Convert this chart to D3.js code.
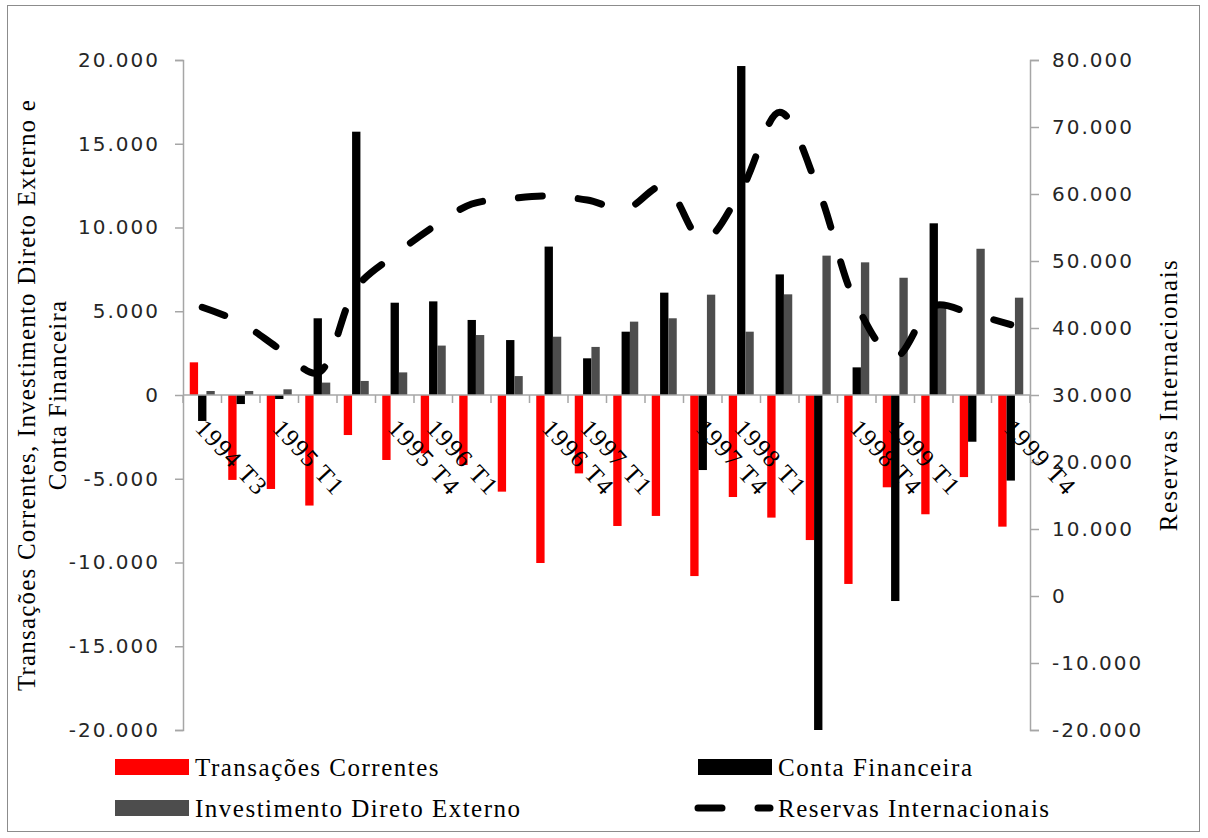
<!DOCTYPE html>
<html>
<head>
<meta charset="utf-8">
<script src="https://cdn.jsdelivr.net/npm/d3@7"></script>
<style>
  html, body { margin: 0; padding: 0; background: #fff; }
  svg { display: block; }
</style>
</head>
<body>
<svg id="chart" width="1208" height="838"></svg>
<script>
// Quarters of the balance-of-payments series (US$ millions)
const quarters = [
  "1994 T3", "1994 T4",
  "1995 T1", "1995 T2", "1995 T3", "1995 T4",
  "1996 T1", "1996 T2", "1996 T3", "1996 T4",
  "1997 T1", "1997 T2", "1997 T3", "1997 T4",
  "1998 T1", "1998 T2", "1998 T3", "1998 T4",
  "1999 T1", "1999 T2", "1999 T3", "1999 T4"
];
// Labels printed under the category axis (first quarter, then Q1 and Q4 of each year)
const tickLabels = [
  "1994 T3", "",
  "1995 T1", "", "", "1995 T4",
  "1996 T1", "", "", "1996 T4",
  "1997 T1", "", "", "1997 T4",
  "1998 T1", "", "", "1998 T4",
  "1999 T1", "", "", "1999 T4"
];
const transacoesCorrentes = [1950, -5070, -5610, -6600, -2390, -3880, -3480, -4180, -5770, -10030, -4680, -7820, -7220, -10810, -6090, -7320, -8660, -11280, -5510, -7120, -4900, -7860];
const contaFinanceira = [-1550, -540, -240, 4580, 15720, 5510, 5590, 4480, 3280, 8860, 2190, 3780, 6110, -4480, 19640, 7200, -20000, 1650, -12300, 10250, -2790, -5110];
const investimentoDireto = [240, 240, 340, 740, 840, 1350, 2950, 3580, 1130, 3480, 2870, 4380, 4580, 5990, 3780, 6010, 8320, 7920, 7000, 5270, 8730, 5810];
const reservasInternacionais = [43100, 40800, 36900, 33300, 46000, 50900, 55100, 58500, 59300, 59700, 59100, 57800, 61200, 53100, 60600, 72200, 60700, 43400, 35700, 43300, 42100, 40500];

const leftTicks = [-20000, -15000, -10000, -5000, 0, 5000, 10000, 15000, 20000];
const rightTicks = [-20000, -10000, 0, 10000, 20000, 30000, 40000, 50000, 60000, 70000, 80000];

const barSeries = [
  { name: "Transações Correntes", values: transacoesCorrentes, color: "#ff0000" },
  { name: "Conta Financeira", values: contaFinanceira, color: "#000000" },
  { name: "Investimento Direto Externo", values: investimentoDireto, color: "#4d4d4d" }
];

const ptBR = d3.formatLocale({ decimal: ",", thousands: ".", grouping: [3], currency: ["", ""], minus: "-" });
const fmt = ptBR.format(",d");

const svg = d3.select("#chart");
const plot = { left: 183, right: 1030, top: 60, bottom: 730 };

const x = d3.scaleBand().domain(quarters).range([plot.left, plot.right]).paddingInner(0).paddingOuter(0);
const x1 = d3.scaleBand().domain(d3.range(barSeries.length)).range([0, x.bandwidth()]).paddingInner(0).paddingOuter(0.81);
const yL = d3.scaleLinear().domain([-20000, 20000]).range([plot.bottom, plot.top]);
const yR = d3.scaleLinear().domain([-20000, 80000]).range([plot.bottom, plot.top]);

const axisColor = "#a6a6a6";
const serif = "'Liberation Serif', 'Times New Roman', serif";
const sans = "'DejaVu Sans', Verdana, sans-serif";

// Chart frame
svg.append("rect")
  .attr("x", 7.5).attr("y", 5.5).attr("width", 1192).attr("height", 826)
  .attr("fill", "none").attr("stroke", "#8c8c8c").attr("stroke-width", 1);

// Bars
const groups = svg.append("g").selectAll("g")
  .data(quarters)
  .join("g")
  .attr("transform", d => `translate(${x(d)},0)`);

groups.selectAll("rect")
  .data((d, i) => barSeries.map((s, k) => ({ k, v: s.values[i], color: s.color })))
  .join("rect")
  .attr("x", d => x1(d.k))
  .attr("width", x1.bandwidth())
  .attr("y", d => yL(Math.max(0, d.v)))
  .attr("height", d => Math.abs(yL(d.v) - yL(0)))
  .attr("fill", d => d.color);

// Left value axis
const leftAxis = svg.append("g")
  .attr("transform", `translate(${plot.left},0)`)
  .call(d3.axisLeft(yL).tickValues(leftTicks).tickFormat(fmt).tickSize(8).tickPadding(15));
leftAxis.select(".domain").attr("stroke", axisColor).attr("stroke-width", 1.5);
leftAxis.selectAll(".tick line").attr("stroke", axisColor).attr("stroke-width", 1.5);
leftAxis.selectAll(".tick text")
  .attr("font-family", sans).attr("font-size", 20).attr("letter-spacing", "2px")
  .attr("fill", "#262626");

// Right value axis
const rightAxis = svg.append("g")
  .attr("transform", `translate(${plot.right},0)`)
  .call(d3.axisRight(yR).tickValues(rightTicks).tickFormat(fmt).tickSize(9).tickPadding(13));
rightAxis.select(".domain").attr("stroke", axisColor).attr("stroke-width", 1.5);
rightAxis.selectAll(".tick line").attr("stroke", axisColor).attr("stroke-width", 1.5);
rightAxis.selectAll(".tick text")
  .attr("font-family", sans).attr("font-size", 20).attr("letter-spacing", "2px")
  .attr("fill", "#262626");

// Category axis crossing at zero
const catAxis = svg.append("g").attr("transform", `translate(0,${yL(0)})`);
catAxis.append("line")
  .attr("x1", plot.left).attr("x2", plot.right)
  .attr("stroke", axisColor).attr("stroke-width", 1.5);
catAxis.selectAll("line.tick")
  .data(d3.range(quarters.length + 1))
  .join("line")
  .attr("class", "tick")
  .attr("x1", i => plot.left + i * x.step()).attr("x2", i => plot.left + i * x.step())
  .attr("y1", 0).attr("y2", 8)
  .attr("stroke", axisColor).attr("stroke-width", 1.5);

svg.append("g").selectAll("text")
  .data(quarters.map((q, i) => ({ q, label: tickLabels[i] })).filter(d => d.label))
  .join("text")
  .attr("transform", d => `translate(${x(d.q) + x.bandwidth() / 2 + 5},${yL(0) + 22}) rotate(47)`)
  .attr("dy", "0.72em")
  .attr("font-family", serif).attr("font-size", 25).attr("letter-spacing", "1.3px")
  .attr("fill", "#000")
  .text(d => d.label);

// Reserves line on the right axis
const line = d3.line()
  .x((d, i) => x(quarters[i]) + x.bandwidth() / 2)
  .y(d => yR(d))
  .curve(d3.curveCatmullRom.alpha(0.5));

svg.append("path")
  .datum(reservasInternacionais)
  .attr("d", line)
  .attr("fill", "none")
  .attr("stroke", "#000")
  .attr("stroke-width", 7)
  .attr("stroke-linecap", "round")
  .attr("stroke-dasharray", "24 36");

// Axis titles
const leftTitle = svg.append("text")
  .attr("transform", `translate(0,${yL(0)}) rotate(-90)`)
  .attr("text-anchor", "middle")
  .attr("font-family", serif).attr("font-size", 25).attr("letter-spacing", "1.2px")
  .attr("fill", "#000");
leftTitle.append("tspan").attr("x", 0).attr("y", 35).text("Transações Correntes, Investimento Direto Externo e");
leftTitle.append("tspan").attr("x", 0).attr("y", 66).text("Conta Financeira");

svg.append("text")
  .attr("transform", `translate(1177,${yR(30000)}) rotate(-90)`)
  .attr("text-anchor", "middle")
  .attr("font-family", serif).attr("font-size", 25).attr("letter-spacing", "1.5px")
  .attr("fill", "#000")
  .text("Reservas Internacionais");

// Legend
const legendItems = [
  { name: barSeries[0].name, color: barSeries[0].color, type: "bar", x: 115, y: 767 },
  { name: barSeries[1].name, color: barSeries[1].color, type: "bar", x: 698, y: 767 },
  { name: barSeries[2].name, color: barSeries[2].color, type: "bar", x: 115, y: 808 },
  { name: "Reservas Internacionais", color: "#000", type: "line", x: 698, y: 808 }
];
const legend = svg.append("g").selectAll("g")
  .data(legendItems)
  .join("g")
  .attr("transform", d => `translate(${d.x},${d.y})`);

legend.filter(d => d.type === "bar").append("rect")
  .attr("x", 0).attr("y", -8).attr("width", 74).attr("height", 16)
  .attr("fill", d => d.color);
legend.filter(d => d.type === "line").append("line")
  .attr("x1", 0).attr("x2", 72).attr("y1", 0).attr("y2", 0)
  .attr("stroke", d => d.color).attr("stroke-width", 7)
  .attr("stroke-linecap", "round").attr("stroke-dasharray", "24 36");

legend.append("text")
  .attr("x", 80).attr("y", 9)
  .attr("font-family", serif).attr("font-size", 25).attr("letter-spacing", "1.5px")
  .attr("fill", "#000")
  .text(d => d.name);
</script>
</body>
</html>
